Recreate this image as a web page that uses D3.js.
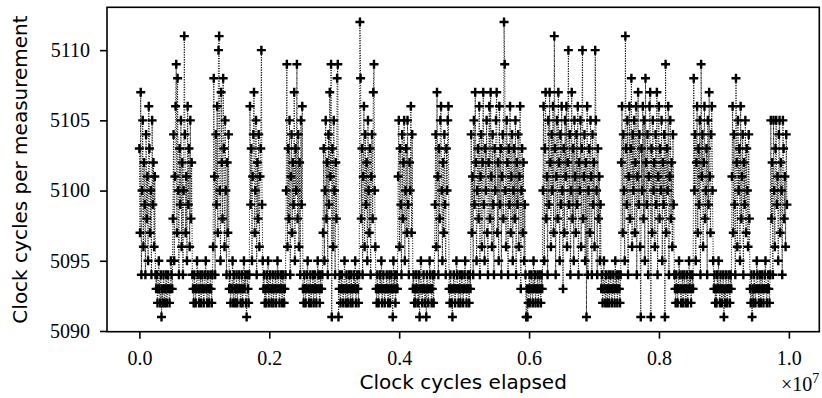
<!DOCTYPE html>
<html>
<head>
<meta charset="utf-8">
<script src="https://cdn.jsdelivr.net/npm/d3@7"></script>
<style>
    html, body { margin: 0; padding: 0; background: #fff; }
    #chart { width: 822px; height: 398px; }
    .tick text { font-family: "Liberation Serif", "DejaVu Serif", serif; }
</style>
</head>
<body>
<div id="chart"></div>
<script>
// clock cycles taken by each measurement, in order (one row per burst / quiet stretch)
const cycles = [
    5103, 5097, 5107, 5094, 5100, 5105, 5096, 5102, 5099, 5094, 5104, 5098, 5101, 5095, 5106, 5103, 5097, 5100, 5094, 5105, 5099, 5102, 5096, 5101, 5094,
    5093, 5094, 5092, 5093, 5095, 5093, 5092, 5094, 5091, 5093, 5092, 5094, 5093, 5092, 5093, 5094, 5092, 5093, 5094, 5093, 5092, 5093, 5095, 5094, 5093,
    5098, 5104, 5095, 5101, 5106, 5109, 5097, 5108, 5100, 5094, 5103, 5099, 5105, 5096, 5102, 5094, 5100, 5111, 5104, 5097, 5101, 5095, 5106, 5099, 5103, 5096, 5105, 5098, 5102, 5094,
    5093, 5092, 5094, 5093, 5092, 5093, 5095, 5094, 5093, 5092, 5093, 5094, 5092, 5093, 5094, 5093, 5092, 5093, 5094, 5095, 5093, 5092, 5094, 5093, 5092, 5093, 5094, 5093, 5092, 5094,
    5096, 5108, 5101, 5094, 5104, 5099, 5106, 5097, 5110, 5111, 5100, 5095, 5107, 5102, 5098, 5108, 5103, 5096, 5105, 5100, 5094, 5102, 5097, 5104,
    5093, 5094, 5092, 5093, 5093, 5095, 5092, 5094, 5093, 5092, 5093, 5094, 5092, 5093, 5093, 5094, 5093, 5092, 5093, 5094, 5092, 5093, 5095, 5093, 5094, 5092, 5091, 5094, 5093, 5092, 5094,
    5106, 5099, 5103, 5095, 5101, 5104, 5107, 5097, 5100, 5105, 5094, 5102, 5098, 5104, 5096, 5101, 5103, 5110, 5099, 5095,
    5093, 5094, 5092, 5093, 5092, 5094, 5093, 5095, 5092, 5093, 5094, 5093, 5092, 5093, 5094, 5092, 5093, 5093, 5094, 5092, 5093, 5095, 5094, 5093, 5092, 5093, 5094, 5093, 5092, 5094, 5093, 5092, 5093, 5094,
    5100, 5109, 5096, 5103, 5098, 5105, 5094, 5101, 5104, 5097, 5102, 5099, 5107, 5095, 5103, 5100, 5109, 5098, 5104, 5096, 5102, 5094, 5105, 5099, 5106,
    5093, 5092, 5094, 5093, 5092, 5093, 5094, 5095, 5093, 5092, 5093, 5094, 5092, 5093, 5093, 5094, 5092, 5093, 5094, 5093, 5092, 5093, 5095, 5094, 5093, 5092, 5094, 5093, 5093, 5094,
    5097, 5103, 5095, 5100, 5105, 5098, 5102, 5094, 5104, 5099, 5107, 5101, 5109, 5091, 5103, 5096, 5105, 5100, 5094, 5102, 5098, 5108, 5109, 5091,
    5093, 5094, 5092, 5093, 5094, 5093, 5092, 5093, 5095, 5093, 5092, 5094, 5093, 5092, 5093, 5094, 5093, 5092, 5094, 5093, 5092, 5093, 5094, 5093, 5095, 5092, 5093, 5094, 5093, 5092, 5094,
    5112, 5108, 5098, 5103, 5094, 5101, 5106, 5096, 5104, 5099, 5102, 5095, 5105, 5100, 5097, 5103, 5094, 5101, 5104, 5098, 5107, 5109, 5100, 5096,
    5093, 5092, 5094, 5093, 5092, 5093, 5094, 5093, 5095, 5092, 5093, 5094, 5093, 5092, 5093, 5093, 5094, 5093, 5092, 5093, 5094, 5092, 5093, 5094, 5093, 5091, 5095, 5093, 5094, 5092, 5093, 5094, 5093,
    5101, 5105, 5096, 5103, 5099, 5094, 5104, 5098, 5102, 5105, 5095, 5100, 5103, 5097, 5105, 5099, 5094, 5102, 5100, 5106, 5097, 5104,
    5093, 5094, 5092, 5093, 5092, 5094, 5093, 5093, 5092, 5094, 5091, 5093, 5095, 5093, 5092, 5093, 5094, 5093, 5092, 5093, 5091, 5094, 5093, 5092, 5093, 5095, 5094, 5093, 5092, 5093, 5094, 5092, 5094,
    5099, 5104, 5096, 5107, 5101, 5094, 5103, 5098, 5105, 5106, 5100, 5095, 5102, 5097, 5104, 5099, 5094, 5103, 5100, 5105, 5106,
    5093, 5092, 5094, 5093, 5092, 5091, 5093, 5094, 5093, 5092, 5093, 5095, 5094, 5093, 5092, 5093, 5094, 5092, 5093, 5094, 5093, 5092, 5093, 5094, 5095, 5093, 5092, 5093, 5094, 5093, 5092, 5094, 5093,
    5104, 5097, 5101, 5094, 5105, 5099, 5107, 5102, 5095, 5100, 5103, 5098, 5106, 5094, 5101, 5104, 5096, 5102, 5107, 5099,
    5095, 5103, 5100, 5105, 5097, 5094, 5102, 5106, 5098, 5107, 5101, 5096, 5104, 5099, 5094, 5103, 5100, 5105, 5107, 5097,
    5102, 5095, 5106, 5099, 5103, 5094, 5101, 5104, 5098, 5112, 5109, 5100, 5096, 5105, 5102, 5094, 5103, 5099, 5106, 5097,
    5101, 5104, 5095, 5100, 5103, 5098, 5105, 5094, 5102, 5099, 5104, 5096, 5101, 5106, 5093, 5100, 5103, 5097, 5102, 5095, 5099, 5094,
    5091, 5093, 5091, 5092, 5093, 5094, 5092, 5093, 5094, 5093, 5092, 5095, 5093, 5094, 5092, 5093, 5093, 5094, 5092, 5093, 5094, 5093, 5092, 5094, 5093,
    5100, 5106, 5095, 5103, 5107, 5098, 5101, 5094, 5105, 5099, 5107, 5102, 5096, 5104, 5100, 5106, 5097, 5111, 5103, 5094,
    5101, 5105, 5098, 5107, 5102, 5095, 5104, 5099, 5106, 5100, 5093, 5103, 5097, 5105, 5101, 5106, 5096, 5102, 5110, 5099,
    5104, 5094, 5100, 5107, 5098, 5103, 5095, 5105, 5101, 5097, 5104, 5099, 5106, 5094, 5102, 5100, 5105, 5096, 5103, 5110,
    5098, 5101, 5104, 5095, 5102, 5091, 5106, 5094, 5100, 5103, 5097, 5105, 5101, 5094, 5104, 5099, 5102, 5096, 5110, 5105,
    5100, 5094, 5103, 5098, 5101, 5095, 5099,
    5093, 5094, 5092, 5093, 5095, 5093, 5092, 5094, 5093, 5092, 5093, 5094, 5092, 5093, 5094, 5093, 5092, 5093, 5094, 5093, 5092, 5095, 5093, 5094, 5092, 5093, 5094, 5093, 5092, 5094,
    5102, 5106, 5097, 5104, 5100, 5095, 5111, 5103, 5099, 5105, 5094, 5101, 5106, 5098, 5103, 5108, 5096, 5104, 5100, 5105,
    5097, 5102, 5106, 5094, 5101, 5107, 5099, 5104, 5096, 5091, 5103, 5100, 5106, 5098, 5105, 5095, 5108, 5102, 5099, 5104,
    5094, 5101, 5106, 5107, 5091, 5103, 5097, 5105, 5100, 5102, 5096, 5104, 5099, 5107, 5094, 5101, 5106, 5098, 5103, 5100,
    5105, 5095, 5102, 5099, 5104, 5091, 5109, 5097, 5103, 5100, 5106, 5094, 5101, 5105, 5098, 5102, 5096, 5104, 5099, 5094,
    5093, 5092, 5094, 5093, 5092, 5093, 5095, 5094, 5093, 5092, 5093, 5094, 5092, 5093, 5094, 5093, 5092, 5093, 5094, 5092, 5093, 5095, 5093, 5094, 5092, 5093, 5094, 5093,
    5108, 5100, 5104, 5095, 5102, 5106, 5097, 5103, 5099, 5105, 5094, 5109, 5101, 5104, 5096, 5102, 5106, 5098, 5100, 5103, 5094, 5105, 5099, 5107, 5101, 5097, 5104, 5106, 5100, 5095,
    5093, 5094, 5092, 5093, 5092, 5094, 5093, 5095, 5093, 5092, 5094, 5093, 5092, 5093, 5094, 5091, 5093, 5092, 5094, 5093, 5092, 5093, 5094, 5093, 5092, 5094, 5093,
    5101, 5106, 5097, 5104, 5099, 5094, 5108, 5102, 5096, 5105, 5100, 5103, 5095, 5106, 5098, 5101, 5104, 5094, 5102, 5099, 5105, 5097, 5103, 5100, 5096, 5104, 5098,
    5093, 5092, 5094, 5091, 5093, 5092, 5094, 5093, 5092, 5093, 5095, 5094, 5093, 5092, 5093, 5094, 5092, 5093, 5094, 5093, 5092, 5093, 5094, 5095, 5093, 5092, 5093, 5094, 5093, 5092, 5094,
    5105, 5098, 5102, 5094, 5105, 5100, 5096, 5103, 5105, 5099, 5101, 5095, 5104, 5105, 5097, 5102, 5100, 5094, 5105, 5103, 5098, 5101, 5096, 5104, 5099
];
// elapsed clock cycles at the last measurement (first one is at 0)
const lastElapsed = 9970000;

const xTicks = [0, 2e6, 4e6, 6e6, 8e6, 1e7];
const xTickLabels = ['0.0', '0.2', '0.4', '0.6', '0.8', '1.0'];
const yTicks = [5090, 5095, 5100, 5105, 5110];
const yTickLabels = ['5090', '5095', '5100', '5105', '5110'];
const xLabel = 'Clock cycles elapsed';
const yLabel = 'Clock cycles per measurement';

class Trace {
    constructor(id, values) {
        this.id = id;
        this.values = values;
        this.width = 822;
        this.height = 398;
        this.margin = { top: 7.3, right: 2.7, bottom: 66.3, left: 107 };
        this.serif = '"Liberation Serif", "DejaVu Serif", serif';
        this.sans = '"DejaVu Sans", sans-serif';
        this.init();
        this.render();
    }
    init() {
        this.innerWidth = this.width - this.margin.left - this.margin.right;
        this.innerHeight = this.height - this.margin.top - this.margin.bottom;
        this.svg = d3.select(`#${this.id}`)
            .append('svg')
            .attr('width', this.width)
            .attr('height', this.height)
            .attr('viewBox', `0 0 ${this.width} ${this.height}`)
            .style('background-color', '#fff');
        this.mg = this.svg.append('g')
            .attr('transform', `translate(${this.margin.left},${this.margin.top})`);
        this.lineGroup = this.mg.append('g').attr('class', 'line-group');
        this.markGroup = this.mg.append('g').attr('class', 'mark-group');
        this.xAxis = this.mg.append('g').attr('class', 'x-axis');
        this.yAxis = this.mg.append('g').attr('class', 'y-axis');
        this.frame = this.mg.append('rect').attr('class', 'frame');
    }
    // matplotlib style 5% margin on both ends
    pad(ext) {
        const m = (ext[1] - ext[0]) * 0.05;
        return [ext[0] - m, ext[1] + m];
    }
    render() {
        const step = lastElapsed / (this.values.length - 1);
        this.points = this.values.map((v, i) => ({ x: i * step, y: v }));
        this.xScale = d3.scaleLinear()
            .domain(this.pad(d3.extent(this.points, d => d.x)))
            .range([0, this.innerWidth]);
        this.yScale = d3.scaleLinear()
            .domain(this.pad(d3.extent(this.points, d => d.y)))
            .range([this.innerHeight, 0]);
        this.renderLine();
        this.renderMarks();
        this.renderAxis();
        this.renderLabels();
    }
    renderLine() {
        const line = d3.line()
            .x(d => this.xScale(d.x))
            .y(d => this.yScale(d.y));
        this.lineGroup.append('path')
            .datum(this.points)
            .attr('d', line)
            .attr('fill', 'none')
            .attr('stroke', '#000')
            .attr('stroke-width', 1)
            .attr('stroke-dasharray', '1,1.5');
    }
    renderMarks() {
        this.markGroup.selectAll('path')
            .data(this.points)
            .join('path')
            .attr('d', 'M-4.5,0H4.5M0,-4.5V4.5')
            .attr('transform', d => `translate(${this.xScale(d.x)},${this.yScale(d.y)})`)
            .attr('stroke', '#000')
            .attr('stroke-width', 2.4)
            .attr('fill', 'none');
    }
    renderAxis() {
        this.xAxis
            .attr('transform', `translate(0,${this.innerHeight})`)
            .call(d3.axisBottom(this.xScale)
                .tickValues(xTicks)
                .tickFormat((d, i) => xTickLabels[i])
                .tickSize(7)
                .tickPadding(12)
                .tickSizeOuter(0));
        this.yAxis
            .call(d3.axisLeft(this.yScale)
                .tickValues(yTicks)
                .tickFormat((d, i) => yTickLabels[i])
                .tickSize(7)
                .tickPadding(10)
                .tickSizeOuter(0));
        [this.xAxis, this.yAxis].forEach(g => {
            g.attr('font-family', this.serif).attr('font-size', 20);
            g.select('.domain').remove();
            g.selectAll('line').attr('stroke', '#000').attr('stroke-width', 1.6);
            g.selectAll('text').attr('fill', '#000');
        });
        this.frame
            .attr('width', this.innerWidth)
            .attr('height', this.innerHeight)
            .attr('fill', 'none')
            .attr('stroke', '#000')
            .attr('stroke-width', 1.6);
    }
    renderLabels() {
        this.svg.append('text')
            .attr('x', this.margin.left + this.innerWidth / 2)
            .attr('y', 389)
            .attr('text-anchor', 'middle')
            .attr('font-family', this.sans)
            .attr('font-size', 20)
            .text(xLabel);
        this.svg.append('text')
            .attr('transform', `translate(27,${this.margin.top + this.innerHeight / 2}) rotate(-90)`)
            .attr('text-anchor', 'middle')
            .attr('font-family', this.sans)
            .attr('font-size', 20)
            .text(yLabel);
        // offset text for the x axis
        const off = this.svg.append('text')
            .attr('x', this.margin.left + this.innerWidth)
            .attr('y', 390.7)
            .attr('text-anchor', 'end')
            .attr('font-family', this.serif)
            .attr('font-size', 20);
        off.append('tspan').text('\u00d710');
        off.append('tspan').attr('dy', -8).attr('font-size', 14).text('7');
    }
}

new Trace('chart', cycles);
</script>
</body>
</html>
